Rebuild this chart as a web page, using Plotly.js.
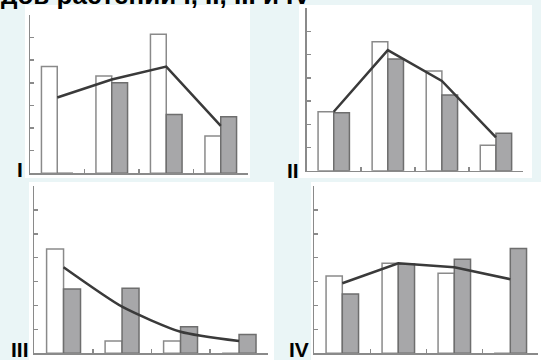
<!DOCTYPE html>
<html>
<head>
<meta charset="utf-8">
<script src="https://cdn.plot.ly/plotly-3.0.1.min.js"></script>
<style>html,body{margin:0;padding:0;background:#eaf5f6;}#chart{width:541px;height:360px;}</style>
</head>
<body>
<div id="chart"></div>
<script>
// Data
const groups = [0, 1, 2, 3];
const panelLabels = ["I", "II", "III", "IV"];
const titleText = "видов растений I, II, III и IV";

const whiteI = [4.72, 4.3, 6.15, 1.65];
const grayI  = [0, 4.0, 2.6, 2.5];
const lineI  = [3.35, 4.15, 4.72, 2.1];

const whiteII = [2.54, 5.56, 4.3, 1.1];
const grayII  = [2.5, 4.81, 3.26, 1.61];
const lineII  = [2.54, 5.2, 3.87, 1.44];

const whiteIII = [4.36, 0.51, 0.51, 0];
const grayIII  = [2.69, 2.72, 1.11, 0.79];
const lineIII  = [3.6, 1.95, 0.9, 0.51];

const whiteIV = [3.23, 3.77, 3.35, 0];
const grayIV  = [2.48, 3.74, 3.93, 4.39];
const lineIV  = [2.93, 3.77, 3.6, 3.1];

const W = 541, H = 360;
const px = x => x / W;
const py = y => 1 - y / H;

const panels = [
  {w: whiteI, g: grayI, l: lineI, x0: 30, x1: 248, yt: 15, yb: 173.3, bg: [25, 5, 250, 178], lab: [20, 169], spline: false},
  {w: whiteII, g: grayII, l: lineII, x0: 306.7, x1: 523, yt: 8.3, yb: 170.7, bg: [299, 5, 532, 178], lab: [293, 170], spline: false},
  {w: whiteIII, g: grayIII, l: lineIII, x0: 34.3, x1: 268.3, yt: 186, yb: 353.3, bg: [29, 182, 274, 360], lab: [20, 349], spline: true},
  {w: whiteIV, g: grayIV, l: lineIV, x0: 314.3, x1: 538.3, yt: 186, yb: 353.3, bg: [311, 182, 541, 360], lab: [299, 349], spline: false}
];

const traces = [];
const layout = {
  width: W, height: H,
  margin: {l: 0, r: 0, t: 0, b: 0},
  paper_bgcolor: "#eaf5f6",
  plot_bgcolor: "rgba(0,0,0,0)",
  showlegend: false,
  barmode: "group",
  bargap: 0.42,
  bargroupgap: 0,
  shapes: [],
  annotations: []
};

panels.forEach((p, i) => {
  const n = i === 0 ? "" : String(i + 1);
  const xa = "x" + n, ya = "y" + n;
  traces.push({
    type: "bar", x: groups, y: p.w, xaxis: xa, yaxis: ya,
    marker: {color: "#ffffff", line: {color: "#8a8a8a", width: 1.5}},
    hoverinfo: "skip"
  });
  traces.push({
    type: "bar", x: groups, y: p.g, xaxis: xa, yaxis: ya,
    marker: {color: "#a7a7a9", line: {color: "#6e6e6e", width: 1.5}},
    hoverinfo: "skip"
  });
  traces.push({
    type: "scatter", mode: "lines", x: groups, y: p.l, xaxis: xa, yaxis: ya,
    line: {color: "#3a3a3a", width: 2.5, shape: p.spline ? "spline" : "linear", smoothing: 0.6},
    hoverinfo: "skip"
  });
  const axBase = {
    showgrid: false, zeroline: false, showline: true,
    linecolor: "#8a8a8a", linewidth: 1.5,
    ticks: "inside", tickcolor: "#8a8a8a", ticklen: 4, tickwidth: 1.5,
    showticklabels: false, fixedrange: true
  };
  layout["xaxis" + n] = Object.assign({}, axBase, {
    domain: [px(p.x0), px(p.x1)], range: [-0.5, 3.5],
    tickvals: [0.5, 1.5, 2.5, 3.5], anchor: ya
  });
  layout["yaxis" + n] = Object.assign({}, axBase, {
    domain: [py(p.yb), py(p.yt)], range: [0, 7],
    tickvals: [0, 1, 2, 3, 4, 5, 6, 7], anchor: xa
  });
  layout.shapes.push({
    type: "rect", xref: "paper", yref: "paper", layer: "below",
    x0: px(p.bg[0]), x1: px(p.bg[2]), y0: py(p.bg[3]), y1: py(p.bg[1]),
    fillcolor: "#ffffff", line: {width: 0}
  });
  layout.annotations.push({
    xref: "paper", yref: "paper", x: px(p.lab[0]), y: py(p.lab[1]),
    xanchor: "center", yanchor: "middle", showarrow: false,
    text: "<b>" + panelLabels[i] + "</b>",
    font: {family: "Liberation Sans, Arial, sans-serif", size: 21, color: "#000"}
  });
});

layout.annotations.push({
  xref: "paper", yref: "paper", x: px(313), y: py(12),
  xanchor: "right", yanchor: "bottom", showarrow: false,
  text: "<b>" + titleText + "</b>",
  font: {family: "Liberation Sans, Arial, sans-serif", size: 26, color: "#000"}
});

Plotly.newPlot("chart", traces, layout, {staticPlot: true, displayModeBar: false});
</script>
</body>
</html>
